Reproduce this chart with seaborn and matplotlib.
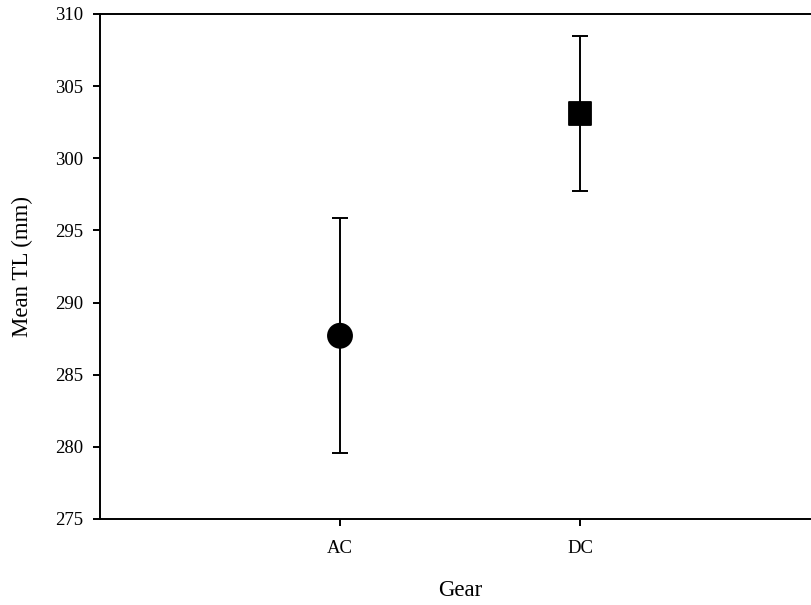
import matplotlib
matplotlib.use("Agg")
import matplotlib.pyplot as plt
import seaborn as sns
import pandas as pd

# Data
gears = ["AC", "DC"]
mean_tl = [287.7, 303.1]
err_tl = [8.15, 5.4]
y_ticks = [275, 280, 285, 290, 295, 300, 305, 310]

df = pd.DataFrame({"Gear": gears, "Mean": mean_tl, "Err": err_tl})

sns.set_style("ticks")
plt.rcParams["font.family"] = ["Liberation Serif", "DejaVu Serif"]

fig = plt.figure(figsize=(8.12, 6.05), dpi=100)
W, H = 812, 605
ax = fig.add_axes([100 / W, (H - 519) / H, 720 / W, 505 / H])

ax.errorbar(x=[0, 1], y=df["Mean"], yerr=df["Err"], fmt="none",
            ecolor="black", elinewidth=1.4, capsize=5.8, capthick=1.4, zorder=2)
sns.scatterplot(data=df, x="Gear", y="Mean", style="Gear",
                markers={"AC": "o", "DC": "s"}, size="Gear",
                sizes={"AC": 300, "DC": 266}, color="black",
                edgecolor="black", legend=False, ax=ax, zorder=3)

ax.set_xlim(-1, 2)
ax.set_ylim(275, 310)
ax.set_yticks(y_ticks)
ax.set_xticks([0, 1])
ax.set_xticklabels(gears)

for side in ["top", "bottom", "left", "right"]:
    ax.spines[side].set_linewidth(1.4)
    ax.spines[side].set_color("black")

ax.tick_params(axis="both", direction="out", length=5, width=1.4,
               colors="black", labelsize=13.5)
ax.tick_params(axis="y", pad=7)
ax.tick_params(axis="x", pad=10)

ax.set_xlabel("Gear", fontsize=16.5, color="black")
ax.set_ylabel("Mean TL (mm)", fontsize=16.5, color="black")
ax.xaxis.set_label_coords((460 - 100) / 720, (519 - 580) / 505)
ax.yaxis.set_label_coords((33 - 100) / 720, 0.5)

fig.savefig("out.png", dpi=100)
